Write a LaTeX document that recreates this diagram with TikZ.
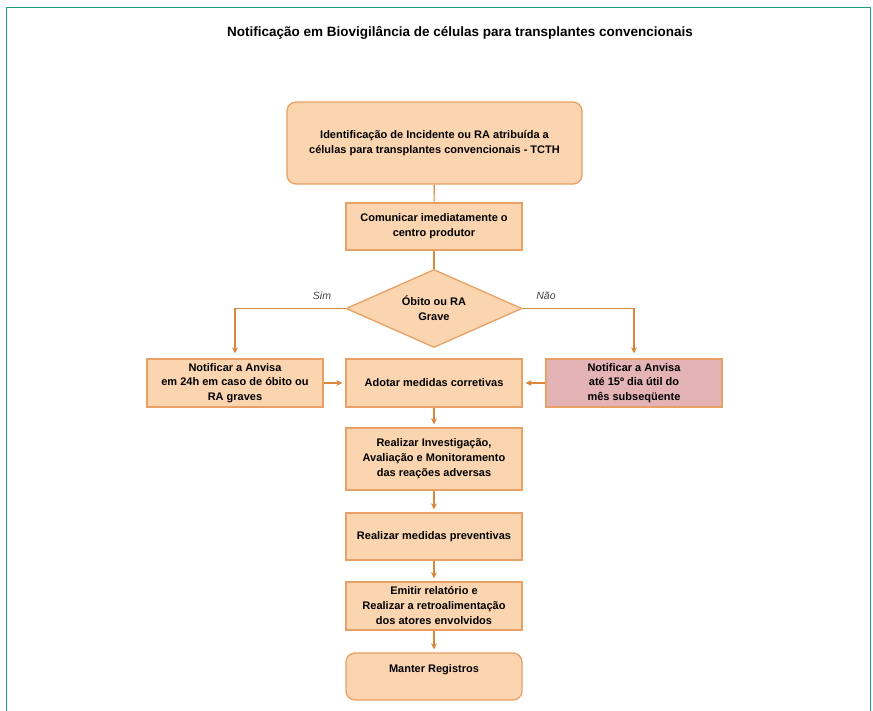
\documentclass[tikz,border=0pt]{standalone}
\usepackage{fontspec}
\setmainfont{Liberation Sans}
\usepackage{xcolor}
\usetikzlibrary{shapes.geometric}
\usetikzlibrary{arrows.meta}

\definecolor{peach}{HTML}{FBD5B0}
\definecolor{peachline}{HTML}{E9A064}
\definecolor{linkline}{HTML}{D8873C}
\definecolor{rosebox}{HTML}{E4B3B6}
\definecolor{frameteal}{HTML}{1C9D82}

\begin{document}
\begin{tikzpicture}[x=1pt, y=-1pt,
  box/.style={draw=peachline, fill=peach, line width=1.3pt, inner sep=0pt,
    minimum width=176pt, minimum height=47pt, align=center,
    font=\fontsize{11}{15}\selectfont\bfseries},
  roundbox/.style={box, rounded corners=9pt},
  decision/.style={draw=peachline, fill=peach, line width=1.3pt, diamond,
    inner sep=0pt, minimum width=176pt, minimum height=78pt, aspect=2.25,
    align=center, font=\fontsize{11}{15}\selectfont\bfseries},
  link/.style={draw=linkline, line width=1.1pt},
  arrowlink/.style={link, -{Stealth[length=6pt,width=6pt]}, shorten >=3pt},
  lbl/.style={font=\fontsize{10.5}{12}\selectfont\itshape, text=black!75}]

\useasboundingbox (0,0) rectangle (873,710);

% frame
\draw[frameteal, line width=1.8pt] (6.5,711) -- (6.5,7.5) -- (870.5,7.5) -- (870.5,711);

\node (title) at (460,33) {\fontsize{13.5}{16}\selectfont\bfseries Notificação em Biovigilância de células para transplantes convencionais};

% boxes
\node[roundbox, minimum width=295pt, minimum height=82pt] (ident) at (434.5,143)
  {Identificação de Incidente ou RA atribuída a\\células para transplantes convencionais - TCTH};
\node[box] (comunicar) at (434,226.5) {Comunicar imediatamente o\\centro produtor};
\node[decision] (obito) at (434,308.5) {Óbito ou RA\\Grave};

\node[box, minimum width=176pt, minimum height=48pt, font=\fontsize{11}{14.5}\selectfont\bfseries] (sim24) at (235,383)
  {Notificar a Anvisa\\em 24h em caso de óbito ou\\RA graves};
\node[box, minimum height=48pt] (corretivas) at (434,383) {Adotar medidas corretivas};
\node[box, fill=rosebox, minimum width=176pt, minimum height=48pt, font=\fontsize{11}{14.5}\selectfont\bfseries] (nao15) at (634,383)
  {Notificar a Anvisa\\até 15º dia útil do\\mês subseqüente};

\node[box, minimum height=62pt] (invest) at (434,459)
  {Realizar Investigação,\\Avaliação e Monitoramento\\das reações adversas};
\node[box] (preven) at (434,536.5) {Realizar medidas preventivas};
\node[box, minimum height=48pt] (emitir) at (434,606)
  {Emitir relatório e\\Realizar a retroalimentação\\dos atores envolvidos};
\node[roundbox, text height=19pt, text depth=28pt] (manter) at (434,676.5) {Manter Registros};

% labels
\node[lbl] (sim) at (322,296) {Sim};
\node[lbl] (nao) at (546,296) {Não};

% connectors
\draw[link] (ident) -- (comunicar);
\draw[link] (comunicar) -- (obito);
\draw[arrowlink, shorten >=5pt] (obito.west) -| (sim24.north);
\draw[arrowlink, shorten >=5pt] (obito.east) -| (nao15.north);
\draw[arrowlink] (sim24) -- (corretivas);
\draw[arrowlink] (nao15) -- (corretivas);
\draw[arrowlink] (corretivas) -- (invest);
\draw[arrowlink] (invest) -- (preven);
\draw[arrowlink] (preven) -- (emitir);
\draw[arrowlink] (emitir) -- (manter);

\end{tikzpicture}
\end{document}
